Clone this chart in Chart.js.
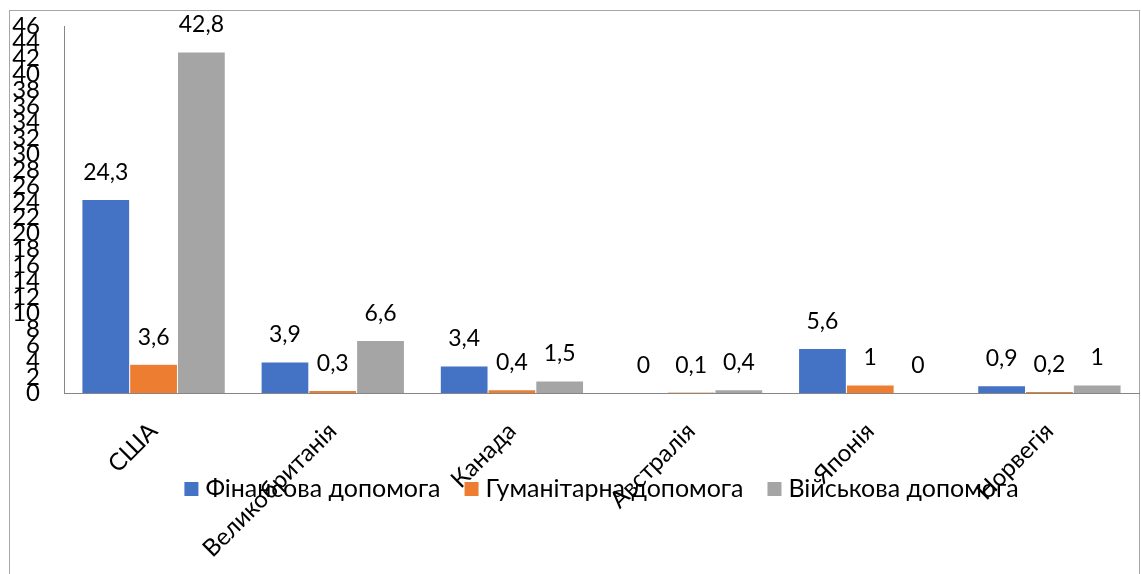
<!DOCTYPE html>
<html>
<head>
<meta charset="utf-8">
<script src="https://cdn.jsdelivr.net/npm/chart.js@4.4.1/dist/chart.umd.min.js"></script>
<style>
  html, body { margin: 0; padding: 0; background: #fff; }
  #wrap { position: relative; width: 1141px; height: 574px; }
</style>
</head>
<body>
<div id="wrap"><canvas id="c" width="1141" height="574"></canvas></div>
<script>
const categories = ['США', 'Великобританія', 'Канада', 'Австралія', 'Японія', 'Норвегія'];
const financial = [24.3, 3.9, 3.4, 0, 5.6, 0.9];
const humanitarian = [3.6, 0.3, 0.4, 0.1, 1, 0.2];
const military = [42.8, 6.6, 1.5, 0.4, 0, 1];
const seriesNames = ['Фінансова допомога', 'Гуманітарна допомога', 'Військова допомога'];
const seriesColors = ['#4472C4', '#ED7D31', '#A5A5A5'];
const yTicks = [0,2,4,6,8,10,12,14,16,18,20,22,24,26,28,30,32,34,36,38,40,42,44,46];

const FONT = 'Lato, "Open Sans", sans-serif';

const frame = {
  id: 'frame',
  beforeDraw(chart) {
    const ctx = chart.ctx;
    ctx.save();
    ctx.fillStyle = '#fff';
    ctx.fillRect(0, 0, chart.width, chart.height);
    ctx.strokeStyle = '#A6A6A6';
    ctx.lineWidth = 1;
    ctx.strokeRect(9.5, 10.5, 1130, 700);
    ctx.restore();
  }
};

const valueLabels = {
  id: 'valueLabels',
  afterDatasetsDraw(chart) {
    const ctx = chart.ctx;
    ctx.save();
    ctx.font = '23px ' + FONT;
    ctx.fillStyle = '#000';
    ctx.textAlign = 'center';
    ctx.textBaseline = 'middle';
    chart.data.datasets.forEach((ds, i) => {
      const meta = chart.getDatasetMeta(i);
      meta.data.forEach((bar, j) => {
        const v = ds.data[j];
        ctx.fillText(String(v).replace('.', ','), bar.x, bar.y - 27);
      });
    });
    ctx.restore();
  }
};

// Legend drawn over the category labels, as in the original
const overlayLegend = {
  id: 'overlayLegend',
  afterDraw(chart) {
    const ctx = chart.ctx;
    const area = chart.chartArea;
    ctx.save();
    ctx.font = '25px ' + FONT;
    ctx.textBaseline = 'middle';
    ctx.textAlign = 'left';
    const box = 14, gapText = 7, gapItem = 24;
    const items = chart.data.datasets.map(ds => ({ text: ds.label, color: ds.backgroundColor, w: ctx.measureText(ds.label).width }));
    const total = items.reduce((s, it) => s + box + gapText + it.w, 0) + gapItem * (items.length - 1);
    let x = (area.left + area.right) / 2 - total / 2;
    const y = 489;
    items.forEach(it => {
      ctx.fillStyle = it.color;
      ctx.fillRect(x, y - 7, box, box);
      ctx.fillStyle = '#000';
      ctx.fillText(it.text, x + box + gapText, y);
      x += box + gapText + it.w + gapItem;
    });
    ctx.restore();
  }
};

new Chart(document.getElementById('c'), {
  type: 'bar',
  data: {
    labels: categories,
    datasets: [
      { label: seriesNames[0], data: financial, backgroundColor: seriesColors[0], borderColor: '#ffffff', borderWidth: 0.5 },
      { label: seriesNames[1], data: humanitarian, backgroundColor: seriesColors[1], borderColor: '#ffffff', borderWidth: 0.5 },
      { label: seriesNames[2], data: military, backgroundColor: seriesColors[2], borderColor: '#ffffff', borderWidth: 0.5 }
    ]
  },
  options: {
    responsive: false,
    animation: false,
    devicePixelRatio: 1,
    layout: { padding: { left: 0, right: 2, top: 26.5, bottom: 0 } },
    datasets: { bar: { categoryPercentage: 0.8, barPercentage: 1.0 } },
    plugins: {
      legend: { display: false },
      tooltip: { enabled: false }
    },
    scales: {
      x: {
        grid: { display: false, drawTicks: false },
        border: { display: true, color: '#868686', width: 1 },
        ticks: {
          font: { size: 24, family: FONT },
          color: '#000',
          minRotation: 45,
          maxRotation: 45,
          autoSkip: false,
          padding: 24
        },
        afterFit(scale) { scale.height = 181; }
      },
      y: {
        min: 0,
        max: 46,
        grid: { display: false, drawTicks: true, tickLength: 24 },
        border: { display: true, color: '#868686', width: 1 },
        ticks: {
          font: { size: 24, family: FONT },
          color: '#000',
          autoSkip: false,
          padding: 0
        },
        afterBuildTicks(scale) { scale.ticks = yTicks.map(v => ({ value: v })); },
        afterFit(scale) { scale.width = 64; }
      }
    }
  },
  plugins: [frame, valueLabels, overlayLegend]
});
</script>
</body>
</html>
